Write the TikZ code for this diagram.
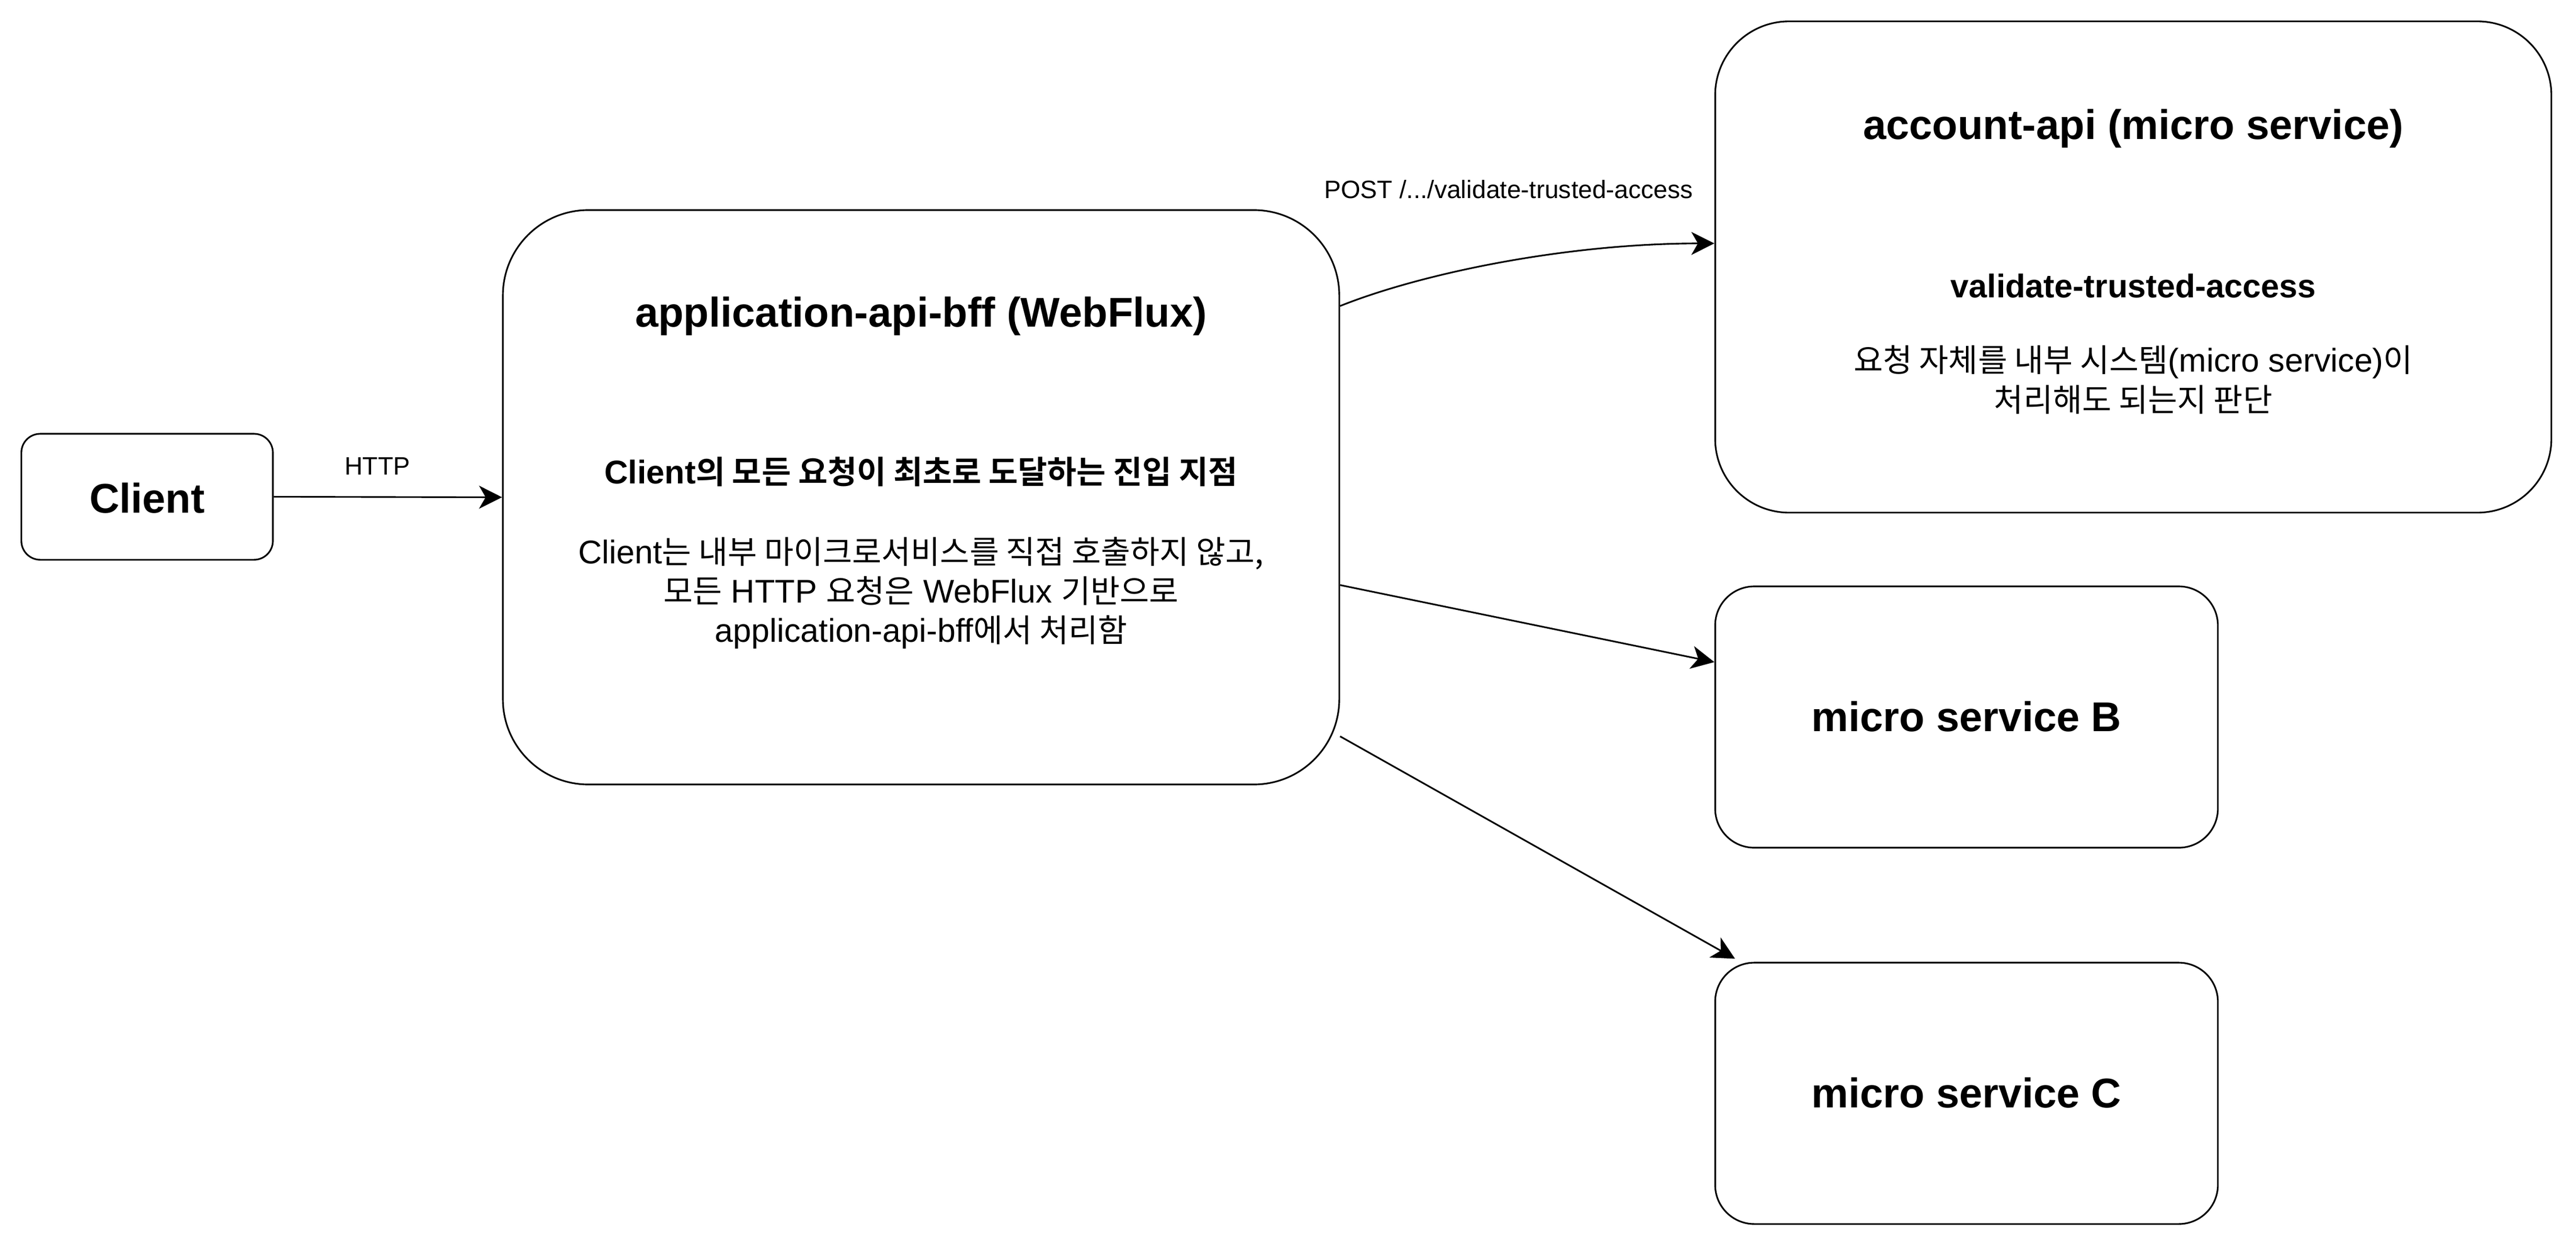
\documentclass[tikz,border=0pt]{standalone}
\usepackage{fontspec}
\setmainfont{Liberation Sans}
\newfontfamily\krfont[Scale=0.97,BoldFont={Noto Sans CJK KR Bold}]{Noto Sans CJK KR}
\newcommand\kr[1]{{\krfont #1}}
\usetikzlibrary{arrows.meta}
\begin{document}
\begin{tikzpicture}[x=1pt,y=-1pt,
  box/.style={draw, line width=1pt, inner sep=0pt, fill=white},
  big/.style={font=\fontsize{25.3}{30}\selectfont\bfseries, inner sep=0pt, anchor=base},
  sub/.style={font=\fontsize{20}{24}\selectfont\bfseries, inner sep=0pt, anchor=base},
  body/.style={font=\fontsize{20}{24}\selectfont, inner sep=0pt, anchor=base},
  lbl/.style={font=\fontsize{15.3}{18}\selectfont, inner sep=0pt, anchor=base},
  arr/.style={line width=1pt, -{Stealth[length=14pt,width=14pt,inset=4pt]}}]
\useasboundingbox[fill=white] (0,0) rectangle (1568,759.8);
% boxes
\node[box, minimum width=153.1pt, minimum height=76.7pt, rounded corners=11.5pt] (client) at (89.55,302.45) {};
\node[box, minimum width=509.1pt, minimum height=349.7pt, rounded corners=52pt] (bff) at (560.65,302.75) {};
\node[box, minimum width=509pt, minimum height=299.1pt, rounded corners=45pt] (acc) at (1298.5,162.55) {};
\node[box, minimum width=306pt, minimum height=159.1pt, rounded corners=23.8pt] (msb) at (1197,436.55) {};
\node[box, minimum width=306pt, minimum height=159.1pt, rounded corners=23.8pt] (msc) at (1197,665.65) {};
% texts
\node[big] (tclient) at (89.55,312.2) {Client};
\node[big] (tbff) at (560.65,199) {application-api-bff (WebFlux)};
\node[sub] (tbffsub) at (560.65,294.4) {Client\kr{의 모든 요청이 최초로 도달하는 진입 지점}};
\node[body] (tbff1) at (560.65,343) {Client\kr{는 내부 마이크로서비스를 직접 호출하지 않고,}};
\node[body] (tbff2) at (560.65,367) {\kr{모든} HTTP \kr{요청은} WebFlux \kr{기반으로}};
\node[body] (tbff3) at (560.65,391) {application-api-bff\kr{에서 처리함}};
\node[big] (tacc) at (1298.5,84.8) {account-api (micro service)};
\node[sub] (taccsub) at (1298.5,181.2) {validate-trusted-access};
\node[body] (tacc1) at (1298.5,226.3) {\kr{요청 자체를 내부 시스템}(micro service)\kr{이}};
\node[body] (tacc2) at (1298.5,250.6) {\kr{처리해도 되는지 판단}};
\node[big] (tmsb) at (1197,445.4) {micro service B};
\node[big] (tmsc) at (1197,674.4) {micro service C};
% connectors
\draw[arr] (client.east) -- (bff.west);
\node[lbl] (lhttp) at (229.7,289.1) {HTTP};
\draw[arr] ([yshift=116.45pt]bff.east) .. controls +(50,-20) and +(-90,0) .. ([yshift=14.35pt]acc.west);
\node[lbl] (lpost) at (918.2,120.8) {POST /.../validate-trusted-access};
\draw[arr] ([yshift=-53.45pt]bff.east) -- ([yshift=33.45pt]msb.west);
\draw[arr] ([yshift=-145.55pt]bff.east) -- ([xshift=12.6pt,yshift=1.9pt]msc.north west);
\end{tikzpicture}
\end{document}
